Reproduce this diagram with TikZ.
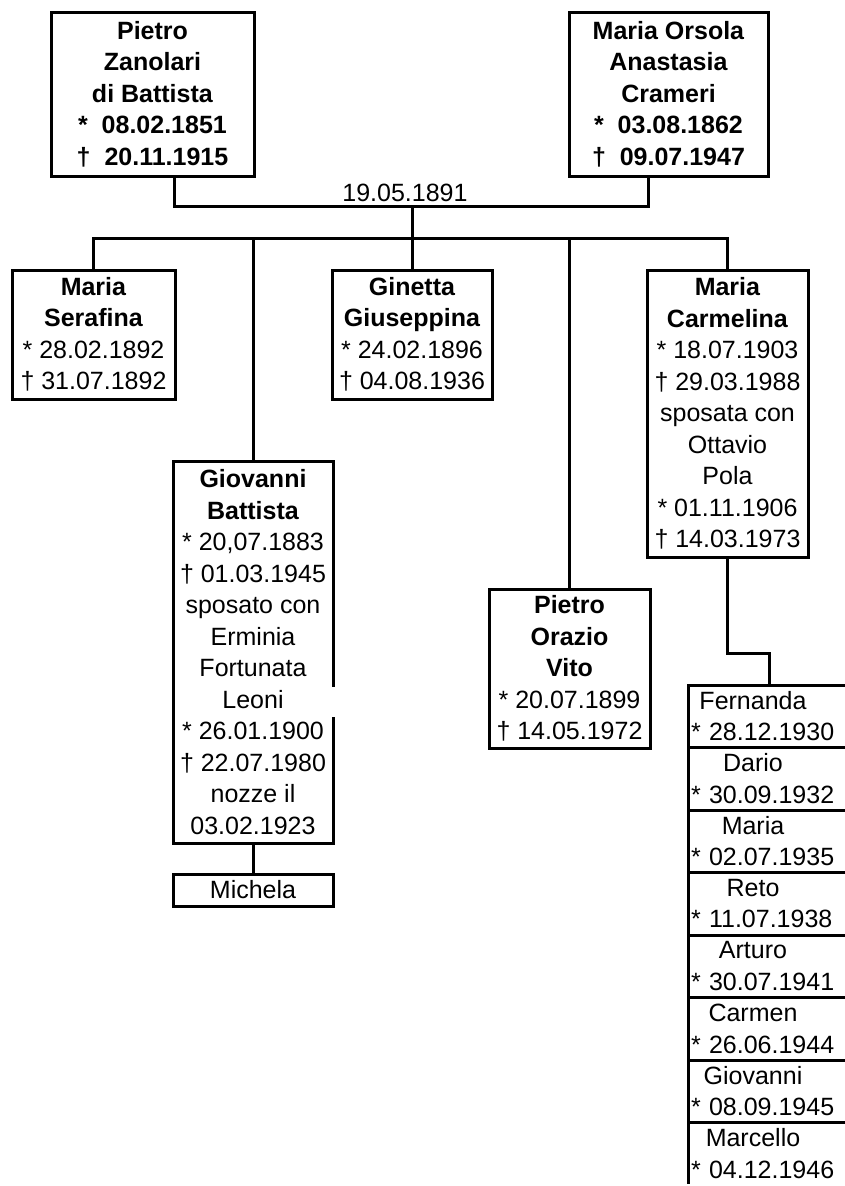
\documentclass[tikz,border=0pt]{standalone}
\usepackage{fontspec}
\setmainfont{Liberation Sans}
\usetikzlibrary{positioning}
\newcommand{\kidname}[1]{\makebox[124pt]{#1}}

\begin{document}
\begin{tikzpicture}[x=1pt, y=-1pt,
    pers/.style={rectangle, draw=black, line width=3pt, outer sep=0pt,
      font=\fontsize{25}{31.5}\selectfont, align=center,
      inner xsep=3pt, inner ysep=2pt},
    kid/.style={rectangle, draw=black, line width=3pt, outer sep=0pt,
      font=\fontsize{25}{31.5}\selectfont, align=left,
      text width=156pt, minimum height=62.5pt,
      inner xsep=3pt, inner ysep=2pt},
    lbl/.style={font=\fontsize{25}{31.5}\selectfont, inner sep=4pt},
    ln/.style={line width=3pt, line cap=rect, color=black}
  ]
    \useasboundingbox (0,0) rectangle (845,1186);
    \clip (0,0) rectangle (845,1183.5);

    %% genitori
    \node[pers, minimum width=203pt, minimum height=164pt] (pietro) at (152.5,94)
      {\textbf{Pietro}\\\textbf{Zanolari}\\\textbf{di Battista}\\\textbf{*~~08.02.1851}\\\textbf{†~~20.11.1915}};
    \node[pers, minimum width=199pt, minimum height=164pt] (orsola) at (668.5,94)
      {\textbf{Maria Orsola}\\\textbf{Anastasia}\\\textbf{Crameri}\\\textbf{*~~03.08.1862}\\\textbf{†~~09.07.1947}};

    %% figli
    \node[pers, minimum width=163pt, minimum height=129pt] (serafina) at (93.5,334.5)
      {\textbf{Maria}\\\textbf{Serafina}\\{*} 28.02.1892\\† 31.07.1892};
    \node[pers, minimum width=160pt, minimum height=382pt] (giovanni) at (253,652)
      {\textbf{Giovanni}\\\textbf{Battista}\\{*} 20,07.1883\\† 01.03.1945\\sposato con\\Erminia\\Fortunata\\Leoni\\{*} 26.01.1900\\† 22.07.1980\\nozze il\\03.02.1923};
    \node[pers, minimum width=160pt, minimum height=129pt] (ginetta) at (412,334.5)
      {\textbf{Ginetta}\\\textbf{Giuseppina}\\{*} 24.02.1896\\† 04.08.1936};
    \node[pers, minimum width=161pt, minimum height=159pt] (orazio) at (569.5,668.5)
      {\textbf{Pietro}\\\textbf{Orazio}\\\textbf{Vito}\\{*} 20.07.1899\\† 14.05.1972};
    \node[pers, minimum width=161pt, minimum height=287pt] (carmelina) at (727.5,413.5)
      {\textbf{Maria}\\\textbf{Carmelina}\\{*} 18.07.1903\\† 29.03.1988\\sposata con\\Ottavio\\Pola\\{*} 01.11.1906\\† 14.03.1973};

    %% nipoti
    \node[pers, minimum width=160pt, minimum height=32pt] (michela) at (253,890) {Michela};

    \node[kid, anchor=north west] (fernanda) at (688,685) {\kidname{Fernanda}\\{*} 28.12.1930};
    \node[kid, below=0pt of fernanda] (dario) {\kidname{Dario}\\{*} 30.09.1932};
    \node[kid, below=0pt of dario] (mariaj) {\kidname{Maria}\\{*} 02.07.1935};
    \node[kid, below=0pt of mariaj] (reto) {\kidname{Reto}\\{*} 11.07.1938};
    \node[kid, below=0pt of reto] (arturo) {\kidname{Arturo}\\{*} 30.07.1941};
    \node[kid, below=0pt of arturo] (carmen) {\kidname{Carmen}\\{*} 26.06.1944};
    \node[kid, below=0pt of carmen] (giovannij) {\kidname{Giovanni}\\{*} 08.09.1945};
    \node[kid, below=0pt of giovannij] (marcello) {\kidname{Marcello}\\{*} 04.12.1946};

    %% linee
    \coordinate (nozze) at (412,206);
    \coordinate (fratelli) at (412,238);
    \draw[ln] ([xshift=21.5pt]pietro.south) |- (nozze) -| ([xshift=-20.5pt]orsola.south);
    \node[lbl, above, xshift=-7pt] (datanozze) at (nozze) {19.05.1891};
    \draw[ln] (nozze) -- (fratelli);
    \draw[ln] (serafina.north |- fratelli) -- (carmelina.north |- fratelli);
    \draw[ln] (serafina.north) -- (serafina.north |- fratelli);
    \draw[ln] (giovanni.north) -- (giovanni.north |- fratelli);
    \draw[ln] (ginetta.north) -- (ginetta.north |- fratelli);
    \draw[ln] (orazio.north) -- (orazio.north |- fratelli);
    \draw[ln] (carmelina.north) -- (carmelina.north |- fratelli);
    \draw[ln] (giovanni.south) -- (michela.north);
    \draw[ln] (carmelina.south) -- ++(0,96) -| (fernanda.north);

    %% bordo interrotto
    \draw[white, line width=5pt] ([yshift=-35pt]giovanni.east) -- ([yshift=-65pt]giovanni.east);
  \end{tikzpicture}
\end{document}
